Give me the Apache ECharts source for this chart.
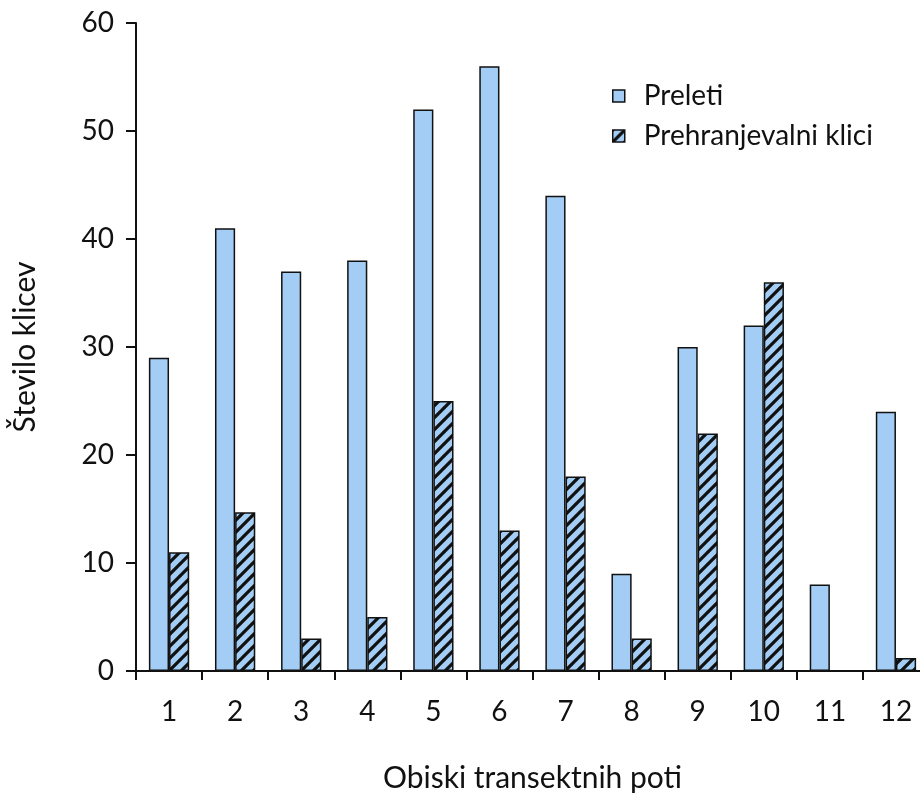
<!DOCTYPE html>
<html>
<head>
<meta charset="utf-8">
<script src="https://cdn.jsdelivr.net/npm/echarts@6/dist/echarts.min.js"></script>
<style>
  html, body { margin: 0; padding: 0; background: #fff; }
  #chart { width: 920px; height: 800px; }
</style>
</head>
<body>
<div id="chart"></div>
<script>
// Transect visits and the call counts recorded on each
const categories = ['1', '2', '3', '4', '5', '6', '7', '8', '9', '10', '11', '12'];
const preleti = [29, 41, 37, 38, 52, 56, 44, 9, 30, 32, 8, 24];
const prehranjevalni = [11, 14.7, 3, 5, 25, 13, 18, 3, 22, 36, 0, 1.2];
const yTicks = [0, 10, 20, 30, 40, 50, 60];

const FONT = 'Lato, "Open Sans", sans-serif';
const BLUE = '#a3cdf5';

// Diagonal black hatch on light blue
function hatchPattern() {
  const s = 12;
  const c = document.createElement('canvas');
  c.width = s; c.height = s;
  const g = c.getContext('2d');
  g.fillStyle = BLUE;
  g.fillRect(0, 0, s, s);
  g.strokeStyle = '#111';
  g.lineWidth = 3.2;
  g.beginPath();
  for (let k = -1; k <= 1; k++) {
    g.moveTo(k * s - 1, s + 1);
    g.lineTo(k * s + s + 1, -1);
  }
  g.stroke();
  return c;
}

const chart = echarts.init(document.getElementById('chart'));
chart.setOption({
  animation: false,
  grid: { left: 136, right: -9, top: 23, bottom: 129, outerBoundsMode: 'none', containLabel: false },
  legend: {
    orient: 'vertical',
    left: 612,
    top: 82,
    padding: 0,
    itemWidth: 12,
    itemHeight: 12,
    itemGap: 12,
    icon: 'rect',
    itemStyle: { borderColor: '#111', borderWidth: 1.5 },
    textStyle: { fontFamily: FONT, fontSize: 28, color: '#111', padding: [0, 0, 0, 14] },
    data: ['Preleti', 'Prehranjevalni klici']
  },
  xAxis: {
    type: 'category',
    data: categories,
    name: 'Obiski transektnih poti',
    nameLocation: 'middle',
    nameGap: 92,
    nameTextStyle: { fontFamily: FONT, fontSize: 30, color: '#111' },
    axisLine: { lineStyle: { color: '#111', width: 2 } },
    axisTick: { show: true, length: 9, alignWithLabel: false, lineStyle: { color: '#111', width: 2 } },
    axisLabel: { fontFamily: FONT, fontSize: 28, color: '#111', margin: 27 }
  },
  yAxis: {
    type: 'value',
    min: yTicks[0],
    max: yTicks[yTicks.length - 1],
    interval: 10,
    name: 'Število klicev',
    nameLocation: 'middle',
    nameGap: 96,
    nameRotate: 90,
    nameTextStyle: { fontFamily: FONT, fontSize: 30, color: '#111' },
    axisLine: { show: true, lineStyle: { color: '#111', width: 2 } },
    axisTick: { show: true, length: 10, lineStyle: { color: '#111', width: 2 } },
    axisLabel: { fontFamily: FONT, fontSize: 28, color: '#111', margin: 22 },
    splitLine: { show: false }
  },
  series: [
    {
      name: 'Preleti',
      type: 'bar',
      data: preleti,
      barGap: '0%',
      barCategoryGap: '39%',
      itemStyle: { color: BLUE, borderColor: '#111', borderWidth: 1.5 }
    },
    {
      name: 'Prehranjevalni klici',
      type: 'bar',
      data: prehranjevalni,
      itemStyle: {
        color: { image: hatchPattern(), repeat: 'repeat' },
        borderColor: '#111',
        borderWidth: 1.5
      }
    }
  ]
});
</script>
</body>
</html>
